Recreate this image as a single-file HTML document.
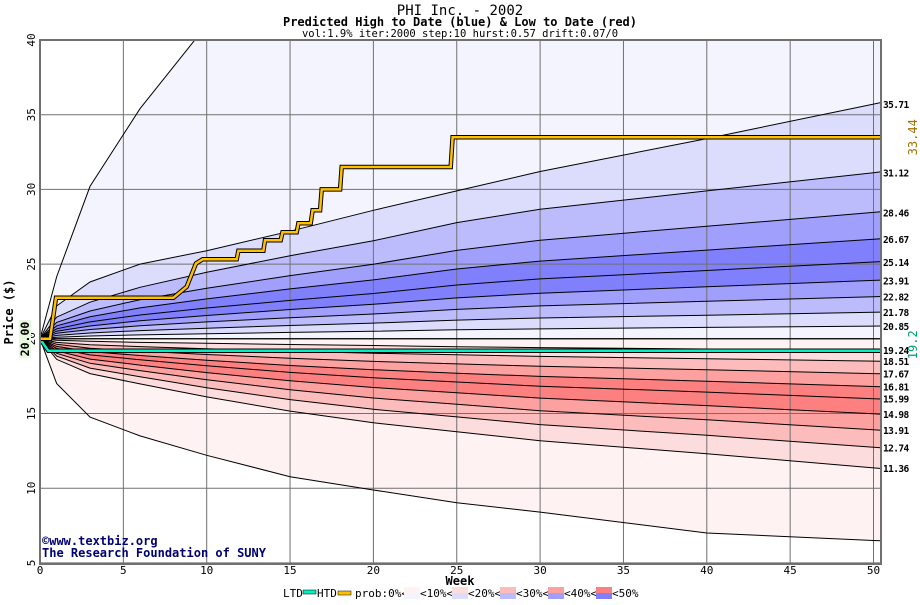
<!DOCTYPE html>
<html><head><meta charset="utf-8"><style>
html,body{margin:0;padding:0;background:#fff;}
svg text{font-family:"DejaVu Sans Mono","Liberation Mono",monospace;}
</style></head><body>
<svg id="chart" width="920" height="600" xmlns="http://www.w3.org/2000/svg">
<defs><clipPath id="plotclip"><rect x="40" y="40" width="841" height="524"/></clipPath></defs>
<text x="460" y="15" text-anchor="middle" font-size="14">PHI Inc. - 2002</text>
<text x="460" y="26" text-anchor="middle" font-size="12" font-weight="bold">Predicted High to Date (blue) &amp;  Low to Date (red)</text>
<text x="460" y="37" text-anchor="middle" font-size="10.5">vol:1.9% iter:2000 step:10 hurst:0.57 drift:0.07/0</text>
<g id="bands" clip-path="url(#plotclip)"></g>
<g id="grid"></g>
<g id="curves" clip-path="url(#plotclip)"></g>
<g id="series" clip-path="url(#plotclip)"></g>
<rect x="40" y="40" width="841" height="524" fill="none" stroke="#707070" stroke-width="2"/>
<g id="axes"></g>
<text transform="translate(13,312) rotate(-90)" text-anchor="middle" font-size="12" font-weight="bold">Price ($)</text>
<rect x="19" y="320" width="12" height="38" fill="#e8f8e0"/>
<text transform="translate(29,339) rotate(-90)" text-anchor="middle" font-size="11.5" font-weight="bold">20.00</text>
<text x="460" y="585" text-anchor="middle" font-size="12" font-weight="bold">Week</text>
<text x="42" y="545" font-size="12" font-weight="bold" fill="#000070">©www.textbiz.org</text>
<text x="42" y="557" font-size="12" font-weight="bold" fill="#000070">The Research Foundation of SUNY</text>
<g id="legend"></g>
</svg>
<script>
const weeks = [0,1,3,6,10,15,20,25,30,40,50];
const blueCurves = [
 [20,24.16,30.2,35.4,41,45,48,50,52,55,58],
 [20,22.2,23.8,25.0,25.9,27.2,28.6,29.9,31.2,33.4,35.71],
 [20,21.45,22.45,23.45,24.45,25.56,26.56,27.78,28.67,29.90,31.12],
 [20,21.10,21.86,22.62,23.38,24.23,24.99,25.92,26.60,27.53,28.46],
 [20,20.87,21.47,22.07,22.67,23.34,23.94,24.67,25.20,25.94,26.67],
 [20,20.67,21.13,21.59,22.06,22.57,23.03,23.60,24.01,24.57,25.14],
 [20,20.51,20.86,21.21,21.56,21.96,22.31,22.74,23.05,23.48,23.91],
 [20,20.37,20.62,20.87,21.13,21.41,21.66,21.97,22.20,22.51,22.82],
 [20,20.23,20.39,20.55,20.71,20.89,21.05,21.25,21.39,21.58,21.78],
 [20,20.11,20.19,20.26,20.34,20.43,20.50,20.60,20.66,20.76,20.85],
 [20,20,20,20,20,20,20,20,20,20,20]
];
const redCurves = [
 [20,20,20,20,20,20,20,20,20,20,20],
 [20,19.90,19.83,19.76,19.70,19.62,19.55,19.47,19.41,19.32,19.24],
 [20,19.76,19.60,19.48,19.33,19.17,19.03,18.93,18.82,18.67,18.51],
 [20,19.63,19.37,19.18,18.95,18.70,18.49,18.32,18.16,17.93,17.67],
 [20,19.49,19.14,18.88,18.56,18.21,17.93,17.70,17.48,17.16,16.81],
 [20,19.36,18.92,18.60,18.20,17.75,17.39,17.11,16.83,16.43,15.99],
 [20,19.20,18.64,18.24,17.74,17.19,16.74,16.39,16.03,15.53,14.98],
 [20,19.03,18.36,17.87,17.26,16.59,16.04,15.62,15.19,14.58,13.91],
 [20,18.84,18.04,17.46,16.73,15.93,15.28,14.77,14.26,13.54,12.74],
 [20,18.62,17.67,16.98,16.11,15.16,14.38,13.78,13.17,12.31,11.36],
 [20,17.0,14.76,13.5,12.2,10.77,9.88,9.03,8.4,7.0,6.5]
];
const blueLabels = ["35.71","31.12","28.46","26.67","25.14","23.91","22.82","21.78","20.85"];
const redLabels = ["19.24","18.51","17.67","16.81","15.99","14.98","13.91","12.74","11.36"];
const htdWeeks =  [0,0.6,0.96,8.0,8.8,9.36,9.76,11.8,11.9,13.4,13.5,14.44,14.55,15.4,15.5,16.24,16.35,16.8,16.9,18.0,18.1,23.9,24.64,24.75,50.45];
const htdValues = [20,20,22.75,22.75,23.49,25.05,25.32,25.32,25.9,25.9,26.6,26.6,27.13,27.13,27.73,27.73,28.6,28.6,30.0,30.0,31.5,31.5,31.5,33.49,33.49];
const ltdWeeks = [0,0.5,50.45];
const ltdValues = [20,19.2,19.2];
const yTicks = [5,10,15,20,25,30,35,40];
const xTicks = [0,5,10,15,20,25,30,35,40,45,50];
const blueFills = ["#f4f4ff","#dcdcfc","#bcbcfc","#a0a0fc","#8080fc","#8080fc","#a0a0fc","#bcbcfc","#dcdcfc","#f4f4ff"];
const redFills = ["#fff2f2","#fcdcdc","#fcbcbc","#fca0a0","#fc8080","#fc8080","#fca0a0","#fcbcbc","#fcdcdc","#fff2f2"];

const NS="http://www.w3.org/2000/svg";
const xS = w => 40 + w*16.67;
const yS = v => 40 + (40 - v)*14.94;
const XEND = 50.45;
function mk(tag, attrs, parent){const e=document.createElementNS(NS,tag);for(const k in attrs)e.setAttribute(k,attrs[k]);parent.appendChild(e);return e;}
function ext(c){const pts=weeks.map((w,i)=>[w,c[i]]);const n=pts.length;const a=pts[n-2],b=pts[n-1];pts.push([XEND,b[1]+(b[1]-a[1])*(XEND-b[0])/(b[0]-a[0])]);return pts;}
function ptsStr(pts){return pts.map(p=>xS(p[0]).toFixed(1)+','+yS(p[1]).toFixed(1)).join(' ');}
const bands=document.getElementById('bands'), curvesG=document.getElementById('curves');
function drawSet(set, fills, prefix){
  for(let i=0;i<set.length-1;i++){
    const top=ext(set[i]), bot=ext(set[i+1]).reverse();
    const p=mk('polygon',{points:ptsStr(top.concat(bot)),fill:fills[i],stroke:'none'},bands);
    
    
  }
  for(let i=0;i<set.length;i++){
    const l=mk('polyline',{points:ptsStr(ext(set[i])),fill:'none',stroke:'#000','stroke-width':1},curvesG);
    
    
  }
}
drawSet(blueCurves, blueFills, 'high');
drawSet(redCurves, redFills, 'low');

const grid=document.getElementById('grid'), axes=document.getElementById('axes');
xTicks.forEach(t=>{
  const g=mk('line',{x1:xS(t),x2:xS(t),y1:40,y2:564,stroke:'#707070','stroke-width':1},grid);
  
  
  const tx=mk('text',{x:xS(t),y:574,'text-anchor':'middle','font-size':11},axes);
  tx.textContent=t;
  
  
});
yTicks.forEach(t=>{
  const g=mk('line',{x1:40,x2:881,y1:yS(t),y2:yS(t),stroke:'#707070','stroke-width':1},grid);
  
  
  const tx=mk('text',{transform:'translate(35,'+yS(t)+') rotate(-90)','text-anchor':'middle','font-size':11},axes);
  tx.textContent=t;
  
  
});
const series=document.getElementById('series');
function thick(ws, vs, color, name){
  const pts=ws.map((w,i)=>[w,vs[i]]);
  const o=mk('polyline',{points:ptsStr(pts),fill:'none',stroke:'#000','stroke-width':4.5},series);
  
  
  const l=mk('polyline',{points:ptsStr(pts),fill:'none',stroke:color,'stroke-width':2.5},series);
  
  
}
thick(ltdWeeks, ltdValues, '#00f0c0', 'ltd-line');
thick(htdWeeks, htdValues, '#ffc000', 'htd-line');

function endLabels(set, labels, prefix){
  labels.forEach((lab,i)=>{
    const v=set[i+1][set[i+1].length-1];
    const t=mk('text',{x:883,y:yS(v)+4,'font-size':9.5,'font-weight':'bold','letter-spacing':'-0.6'},axes);
    t.textContent=lab;
    
    
  });
}
endLabels(blueCurves.slice(0,10), blueLabels, 'high');
endLabels(redCurves, redLabels, 'low');
const hl=mk('text',{transform:'translate(917,'+yS(htdValues[htdValues.length-1])+') rotate(-90)','text-anchor':'middle','font-size':12,fill:'#a07000'},axes);
hl.textContent='33.44';


const ll=mk('text',{transform:'translate(917,'+(yS(ltdValues[ltdValues.length-1])-6)+') rotate(-90)','text-anchor':'middle','font-size':12,fill:'#00a070'},axes);
ll.textContent='19.2';



const leg=document.getElementById('legend');
function lt(x,s){const t=mk('text',{x:x,y:597,'font-size':11},leg);t.textContent=s;}
lt(283,'LTD');
const r1=mk('rect',{x:303,y:590,width:13,height:4,fill:'#00f0c0',stroke:'#000','stroke-width':0.5},leg);


lt(317,'HTD');
const r2=mk('rect',{x:338,y:591,width:13,height:4,fill:'#ffc000',stroke:'#000','stroke-width':0.5},leg);


lt(355,'prob:0%<');
const legLabs=['<10%<','<20%<','<30%<','<40%<','<50%'];
const lx=[404,452,500,548,596];
for(let i=0;i<5;i++){
  const a=mk('rect',{x:lx[i],y:587,width:16,height:6,fill:redFills[i]},leg);
  
  
  const b=mk('rect',{x:lx[i],y:593,width:16,height:6,fill:blueFills[i]},leg);
  
  
  lt(lx[i]+16,legLabs[i]);
}
</script>
</body></html>
